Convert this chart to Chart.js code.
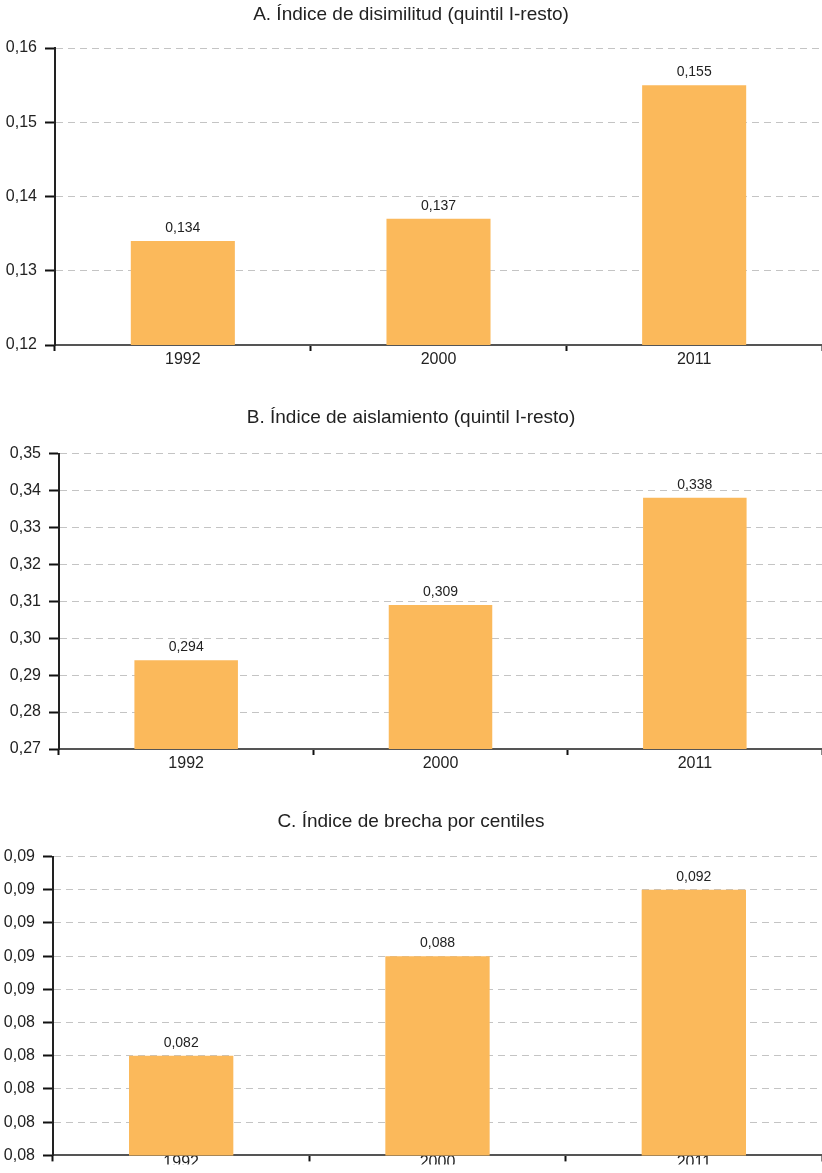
<!DOCTYPE html>
<html>
<head>
<meta charset="utf-8">
<script src="https://cdn.jsdelivr.net/npm/chart.js@4.4.0/dist/chart.umd.min.js"></script>
<style>
  body { margin: 0; background: #fff; }
  canvas { position: absolute; left: 0; }
</style>
</head>
<body>
<canvas id="chartA" width="822" height="390" style="top:0px"></canvas>
<canvas id="chartB" width="822" height="400" style="top:400px"></canvas>
<canvas id="chartC" width="822" height="368" style="top:805px"></canvas>
<script>
const years = ['1992', '2000', '2011'];

const disimilitud = [0.134, 0.137, 0.155];
const aislamiento = [0.294, 0.309, 0.338];
const brecha = [0.082, 0.088, 0.092];

const titleA = 'A. Índice de disimilitud (quintil I-resto)';
const titleB = 'B. Índice de aislamiento (quintil I-resto)';
const titleC = 'C. Índice de brecha por centiles';

const barColor = '#fbb95b';
const fontFamily = '"Liberation Sans", Arial, Helvetica, sans-serif';

Chart.defaults.font.family = fontFamily;
Chart.defaults.color = '#222';

// draws the value above each bar
const valueLabels = {
  id: 'valueLabels',
  afterDatasetsDraw(chart) {
    const ctx = chart.ctx;
    const meta = chart.getDatasetMeta(0);
    const data = chart.data.datasets[0].data;
    ctx.save();
    ctx.font = '14px ' + fontFamily;
    ctx.fillStyle = '#222';
    ctx.textAlign = 'center';
    ctx.textBaseline = 'middle';
    meta.data.forEach((bar, i) => {
      ctx.fillText(data[i].toFixed(3).replace('.', ','), bar.x, bar.y - 13);
    });
    ctx.restore();
  }
};

function makeChart(id, title, values, yMin, yMax, step, axisWidth, titlePad, bottomPad, xPad) {
  const ctx = document.getElementById(id).getContext('2d');
  return new Chart(ctx, {
    type: 'bar',
    data: {
      labels: years,
      datasets: [{
        data: values,
        backgroundColor: barColor,
        borderWidth: 0,
        barPercentage: 0.407,
        categoryPercentage: 1
      }]
    },
    options: {
      responsive: false,
      animation: false,
      layout: { padding: { top: 0, right: 0, left: 0, bottom: bottomPad } },
      plugins: {
        legend: { display: false },
        tooltip: { enabled: false },
        title: {
          display: true,
          text: title,
          color: '#222',
          font: { size: 19, weight: 'normal' },
          padding: titlePad
        }
      },
      scales: {
        x: {
          offset: true,
          grid: {
            offset: true,
            drawOnChartArea: false,
            tickLength: 6,
            tickColor: '#111',
            tickWidth: 2
          },
          border: { color: '#555', width: 2 },
          ticks: { font: { size: 16 }, color: '#222', padding: xPad }
        },
        y: {
          min: yMin,
          max: yMax,
          afterFit(scale) { scale.width = axisWidth; },
          grid: {
            color: '#c4c4c4',
            lineWidth: 1,
            tickLength: 10,
            tickColor: '#111',
            tickWidth: 2,
            tickBorderDash: []
          },
          border: { color: '#222', width: 2, dash: [7, 5] },
          ticks: {
            stepSize: step,
            padding: 8,
            font: { size: 16 },
            color: '#222',
            callback: (v) => Number(v).toFixed(2).replace('.', ',')
          }
        }
      }
    },
    plugins: [valueLabels]
  });
}

makeChart('chartA', titleA, disimilitud, 0.12, 0.16, 0.01, 55, { top: 3.5, bottom: 21.7 }, 21.8, -1);
makeChart('chartB', titleB, aislamiento, 0.27, 0.35, 0.01, 59, { top: 6.5, bottom: 24.2 }, 27.8, -1);
makeChart('chartC', titleC, brecha, 0.076, 0.094, 0.002, 53, { top: 5.5, bottom: 23.2 }, 0.8, -8);
</script>
</body>
</html>
